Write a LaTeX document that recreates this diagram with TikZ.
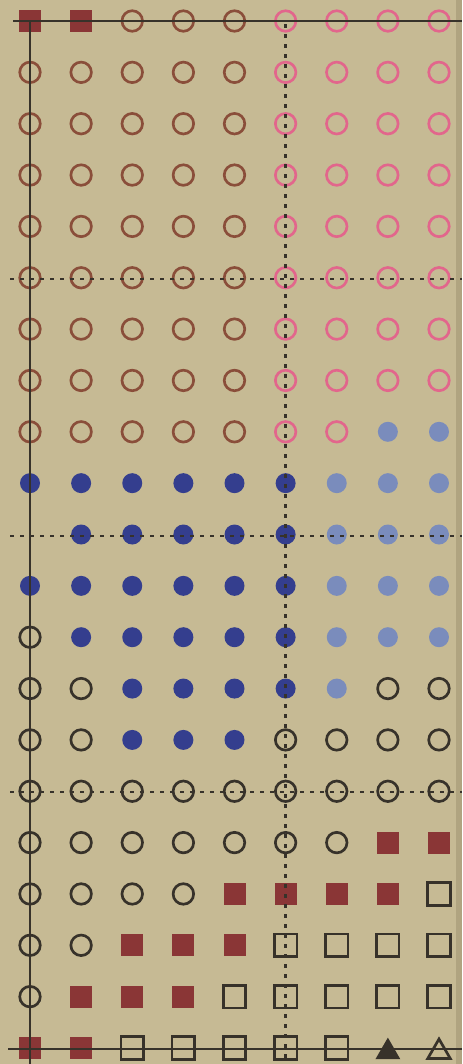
\documentclass[tikz,border=0pt]{standalone}
\usetikzlibrary{shapes.geometric}
\definecolor{bg}{RGB}{198,186,148}
\definecolor{edge}{RGB}{150,138,104}
\definecolor{brownc}{RGB}{138,78,58}
\definecolor{pinkc}{RGB}{226,102,140}
\definecolor{darkblue}{RGB}{52,62,142}
\definecolor{lightblue}{RGB}{122,140,188}
\definecolor{redsq}{RGB}{138,54,54}
\definecolor{ink}{RGB}{55,50,42}
\tikzset{
  ring/.style={circle, draw, line width=2pt, minimum size=15.4pt, inner sep=0pt, outer sep=0pt},
  dot/.style={circle, minimum size=15pt, inner sep=0pt, outer sep=0pt},
  mkB/.style={ring, draw=brownc},
  mkP/.style={ring, draw=pinkc},
  mkK/.style={ring, draw=ink},
  mkD/.style={dot, fill=darkblue},
  mkL/.style={dot, fill=lightblue},
  mkR/.style={rectangle, fill=redsq, minimum size=16.5pt, inner sep=0pt, outer sep=0pt},
  mkS/.style={rectangle, draw=ink, line width=2pt, minimum size=16.9pt, inner sep=0pt, outer sep=0pt},
  mkT/.style={regular polygon, regular polygon sides=3, fill=ink, minimum size=21.6pt, inner sep=0pt, outer sep=0pt, yshift=-3pt},
  mkU/.style={regular polygon, regular polygon sides=3, draw=ink, line width=2pt, minimum size=19.5pt, inner sep=0pt, outer sep=0pt, yshift=-3pt},
  axisline/.style={draw=ink, line width=2.2pt},
  gridline/.style={draw=ink, line width=2pt, dash pattern=on 3pt off 4.5pt}
}
\begin{document}
\begin{tikzpicture}[x=0.75pt,y=-0.75pt]
\fill[bg] (0,0) rectangle (462,1064);
\useasboundingbox (0,0) rectangle (462,1064);
\fill[edge, opacity=0.45] (456,0) rectangle (462,1064);
% markers
\foreach \r/\row in {
 0/{R,R,B,B,B,P,P,P,P},
 1/{B,B,B,B,B,P,P,P,P},
 2/{B,B,B,B,B,P,P,P,P},
 3/{B,B,B,B,B,P,P,P,P},
 4/{B,B,B,B,B,P,P,P,P},
 5/{B,B,B,B,B,P,P,P,P},
 6/{B,B,B,B,B,P,P,P,P},
 7/{B,B,B,B,B,P,P,P,P},
 8/{B,B,B,B,B,P,P,L,L},
 9/{D,D,D,D,D,D,L,L,L},
 10/{X,D,D,D,D,D,L,L,L},
 11/{D,D,D,D,D,D,L,L,L},
 12/{K,D,D,D,D,D,L,L,L},
 13/{K,K,D,D,D,D,L,K,K},
 14/{K,K,D,D,D,K,K,K,K},
 15/{K,K,K,K,K,K,K,K,K},
 16/{K,K,K,K,K,K,K,R,R},
 17/{K,K,K,K,R,R,R,R,S},
 18/{K,K,R,R,R,S,S,S,S},
 19/{K,R,R,R,S,S,S,S,S},
 20/{R,R,S,S,S,S,S,T,U}}{
  \foreach \m [count=\c from 0] in \row {
    \if\m X\else
      \node[mk\m] (m-\r-\c) at ({30+51.125*\c},{21+51.35*\r}) {};
    \fi
  }
}
% coordinates for the frame and grid lines
\coordinate (tl) at (13,21);
\coordinate (tr) at (462,21);
\coordinate (lt) at (30,21);
\coordinate (lb) at (30,1064);
\coordinate (bl) at (8,1049);
\coordinate (br) at (462,1049);
\coordinate (vt) at (285.6,24);
\coordinate (vb) at (285.6,1064);
\coordinate (h1l) at (10,279);
\coordinate (h1r) at (462,279);
\coordinate (h2l) at (10,536);
\coordinate (h2r) at (462,536);
\coordinate (h3l) at (10,792);
\coordinate (h3r) at (462,792);
% dotted grid lines
\draw[gridline] (vt) -- (vb);
\draw[gridline] (h1l) -- (h1r);
\draw[gridline] (h2l) -- (h2r);
\draw[gridline] (h3l) -- (h3r);
% solid frame
\draw[axisline] (tl) -- (tr);
\draw[axisline] (lt) -- (lb);
\draw[axisline] (bl) -- (br);
\end{tikzpicture}
\end{document}
